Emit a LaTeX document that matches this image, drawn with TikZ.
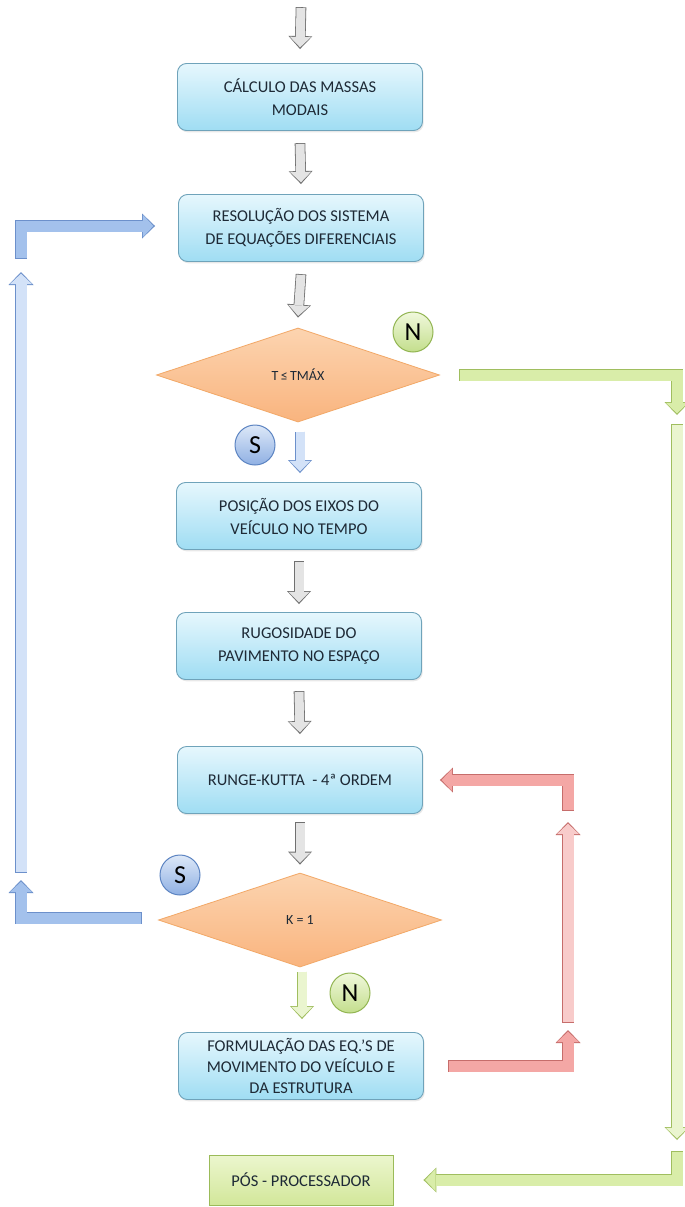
\documentclass[tikz,border=0pt]{standalone}
\usepackage{fontspec}
\setmainfont{Carlito}
\usetikzlibrary{shapes.geometric,arrows.meta,calc,shadows}
\definecolor{textcol}{HTML}{1E2A36}
\definecolor{boxTop}{HTML}{E6F7FD}
\definecolor{boxBot}{HTML}{9FDDF3}
\definecolor{boxLine}{HTML}{6FA3BA}
\definecolor{diaTop}{HTML}{FCD4B0}
\definecolor{diaBot}{HTML}{F9B47E}
\definecolor{diaLine}{HTML}{F2A867}
\definecolor{sTop}{HTML}{DDE8F8}
\definecolor{sBot}{HTML}{8FB0E3}
\definecolor{sLine}{HTML}{5C84C2}
\definecolor{nTop}{HTML}{F0F8DC}
\definecolor{nBot}{HTML}{C3DE8C}
\definecolor{nLine}{HTML}{92B552}
\definecolor{pgTop}{HTML}{ECF6CE}
\definecolor{pgBot}{HTML}{D2E79A}
\definecolor{pgLine}{HTML}{9BBB59}
\definecolor{grayLine}{HTML}{707070}
\definecolor{grayFill}{HTML}{E4E4E4}
\definecolor{blueLine}{HTML}{6C90CB}
\definecolor{blueFill}{HTML}{A3C1EC}
\definecolor{blueLight}{HTML}{D3E2F8}
\definecolor{greenLine}{HTML}{A0BE5F}
\definecolor{greenFill}{HTML}{D9EDA9}
\definecolor{greenLight}{HTML}{EAF5CF}
\definecolor{redLine}{HTML}{C66D6B}
\definecolor{redFill}{HTML}{F4A7A5}
\definecolor{redLight}{HTML}{F8CBCA}
% block arrow: #1 outline colour, #2 fill colour, #3 shaft width, #4 head width, #5 path
\newcommand\barrow[5]{%
  \pgfmathsetmacro\myShaftO{#3+1.6}%
  \pgfmathsetmacro\myHeadO{#4+3}%
  \draw[line width=\myShaftO pt, color=#1, line join=miter, line cap=butt,
        shorten <=-0.8pt, -{Triangle[length=13pt,width=\myHeadO pt,line width=0pt]}] #5;
  \draw[line width=#3pt, color=#2, line join=miter, line cap=butt,
        shorten >=1.7pt, -{Triangle[length=10.4pt,width=#4pt,line width=0pt]}] #5;
}
\begin{document}
\begin{tikzpicture}[x=1pt,y=-1pt,
  procbox/.style={rectangle, rounded corners=9pt, minimum width=245pt, minimum height=67pt,
    align=center, draw=boxLine, line width=0.9pt, top color=boxTop, bottom color=boxBot,
    text=textcol, font=\fontsize{16.5}{23}\selectfont, inner sep=1pt,
    drop shadow={opacity=0.18, shadow xshift=1.2pt, shadow yshift=-1.8pt}},
  decision/.style={diamond, minimum width=283pt, minimum height=94pt, inner sep=0pt,
    draw=diaLine, line width=0.8pt, top color=diaTop, bottom color=diaBot,
    text=textcol, font=\fontsize{14}{16}\selectfont},
  endbox/.style={rectangle, minimum width=184pt, minimum height=50pt, draw=pgLine,
    line width=0.9pt, top color=pgTop, bottom color=pgBot, text=textcol,
    font=\fontsize{16.5}{20}\selectfont},
  scirc/.style={circle, minimum size=40pt, inner sep=0pt, draw=sLine, line width=1pt,
    top color=sTop, bottom color=sBot, text=black, font=\fontsize{26}{26}\selectfont},
  ncirc/.style={circle, minimum size=40pt, inner sep=0pt, draw=nLine, line width=1pt,
    top color=nTop, bottom color=nBot, text=black, font=\fontsize{26}{26}\selectfont}]
\useasboundingbox (0,0) rectangle (685,1207);
\fill[white] (0,0) rectangle (685,1207);
\clip (0,0) rectangle (685,1207);

% nodes
\node[procbox] (B1) at (300,97) {CÁLCULO DAS MASSAS\\MODAIS};
\node[procbox] (B2) at (301,228) {RESOLUÇÃO DOS SISTEMA\\DE EQUAÇÕES DIFERENCIAIS};
\node[decision] (D1) at (298,375) {T\,≤\,TMÁX};
\node[procbox] (B3) at (299,516) {POSIÇÃO DOS EIXOS DO\\VEÍCULO NO TEMPO};
\node[procbox] (B4) at (299,646) {RUGOSIDADE DO\\PAVIMENTO NO ESPAÇO};
\node[procbox] (B5) at (300,780) {RUNGE-KUTTA~ - 4ª ORDEM};
\node[decision] (D2) at (300,920) {K = 1};
\node[procbox, font=\fontsize{16.5}{21}\selectfont] (B6) at (301,1066) {FORMULAÇÃO DAS EQ.'S DE\\MOVIMENTO DO VEÍCULO E\\DA ESTRUTURA};
\node[endbox] (B7) at (301,1180) {PÓS - PROCESSADOR};

\node[ncirc] (N1) at (413,332) {N};
\node[scirc] (S1) at (255,445) {S};
\node[scirc] (S2) at (180,875) {S};
\node[ncirc] (N2) at (350,993) {N};

% free ends
\coordinate (topstart) at (301,8);
\coordinate (gA) at (677,415);
\coordinate (gB) at (677,425);
\coordinate (gC) at (677,1140);
\coordinate (gD) at (677,1152);
\coordinate (bA) at (21,880);
\coordinate (bB) at (21,872);
\coordinate (bC) at (21,272);
\coordinate (bD) at (21,258);
\coordinate (rA) at (568,1030);
\coordinate (rB) at (568,1022);
\coordinate (rC) at (568,822);
\coordinate (rD) at (568,810);

% grey arrows
\barrow{grayLine}{grayFill}{9}{21}{(topstart) -- ($(B1.north)+(0,-14)$)}
\barrow{grayLine}{grayFill}{9}{21}{($(B1.south)+(0,13)$) -- ($(B2.north)+(0,-10)$)}
\barrow{grayLine}{grayFill}{9}{21}{($(B2.south)+(0,13)$) -- ($(D1.north)+(0,-10)$)}
\barrow{grayLine}{grayFill}{9}{21}{($(B3.south)+(0,12)$) -- ($(B4.north)+(0,-8)$)}
\barrow{grayLine}{grayFill}{9}{21}{($(B4.south)+(0,12)$) -- ($(B5.north)+(0,-12)$)}
\barrow{grayLine}{grayFill}{9}{21}{($(B5.south)+(0,9)$) -- ($(D2.north)+(0,-8)$)}

% yes / no short arrows
\barrow{blueLine}{blueLight}{9}{21}{($(D1.south)+(2,10)$) -- ($(B3.north)+(1,-9)$)}
\barrow{greenLine}{greenLight}{9}{21}{($(D2.south)+(2,5)$) -- ($(B6.north)+(1,-13)$)}

% green loop (N of T <= TMAX)
\barrow{greenLine}{greenFill}{11}{22}{($(D1.east)+(20,0)$) -| (gA)}
\barrow{greenLine}{greenLight}{11}{22}{(gB) -- (gC)}
\barrow{greenLine}{greenFill}{11}{22}{(gD) |- ($(B7.east)+(30,0)$)}

% blue loop (S of K = 1)
\barrow{blueLine}{blueFill}{11}{22}{($(D2.west)+(-17,-2)$) -| (bA)}
\barrow{blueLine}{blueLight}{11}{22}{(bB) -- (bC)}
\barrow{blueLine}{blueFill}{11}{22}{(bD) |- ($(B2.west)+(-23,-2)$)}

% red loop
\barrow{redLine}{redFill}{11}{22}{($(B6.east)+(25,0)$) -| (rA)}
\barrow{redLine}{redLight}{11}{22}{(rB) -- (rC)}
\barrow{redLine}{redFill}{11}{22}{(rD) |- ($(B5.east)+(17,0)$)}
\end{tikzpicture}
\end{document}
